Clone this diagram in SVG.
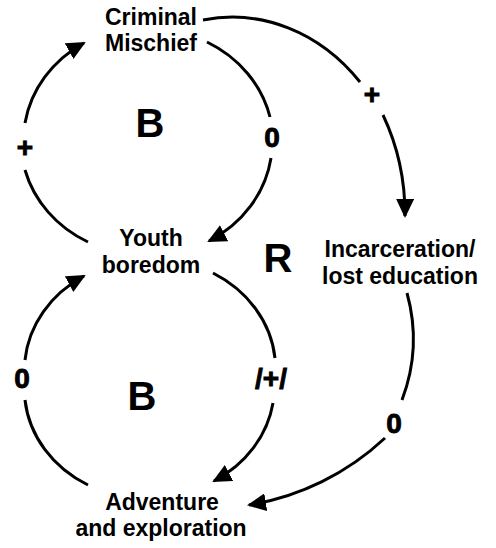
<svg xmlns="http://www.w3.org/2000/svg" width="496" height="548" viewBox="0 0 496 548">
  <style>
    .node { font-family: "Liberation Sans", Arial, sans-serif; font-weight: bold; font-size: 23px; fill: #000; text-anchor: middle; }
    .loop { font-family: "Liberation Sans", Arial, sans-serif; font-weight: bold; font-size: 40px; fill: #000; text-anchor: middle; }
    .pol { font-family: "Liberation Sans", Arial, sans-serif; font-weight: bold; font-size: 28px; fill: #000; stroke: #000; stroke-width: 0.9; text-anchor: middle; }
    .link { fill: none; stroke: #000; stroke-width: 3; }
  </style>
  <defs>
    <marker id="head" viewBox="0 0 19 18" refX="17" refY="9" markerWidth="19" markerHeight="18" markerUnits="userSpaceOnUse" orient="auto">
      <path d="M0,0 L19,9 L0,18 z" fill="#000"/>
    </marker>
  </defs>

  <rect width="496" height="548" fill="#fff"/>

  <g id="connectors">
    <!-- upper balancing loop -->
    <path class="link" d="M88,242 A124,114 0 0 1 25,170"/>
    <path class="link" d="M25,123 A124,114 0 0 1 84,43" marker-end="url(#head)"/>
    <path class="link" d="M207,42 A124,114 0 0 1 270,117"/>
    <path class="link" d="M271,158 A124,114 0 0 1 209,241" marker-end="url(#head)"/>
    <!-- lower balancing loop -->
    <path class="link" d="M88,485 A124,110 0 0 1 25,400"/>
    <path class="link" d="M25,360 A124,110 0 0 1 84,276" marker-end="url(#head)"/>
    <path class="link" d="M213,273 A124,110 0 0 1 275,358"/>
    <path class="link" d="M273,403 A124,110 0 0 1 214,481" marker-end="url(#head)"/>
    <!-- outer reinforcing path -->
    <path class="link" d="M203,20 A175,205 0 0 1 360,82"/>
    <path class="link" d="M383,115 A175,205 0 0 1 405,216" marker-end="url(#head)"/>
    <path class="link" d="M407,293 A172,172 0 0 1 402,400"/>
    <path class="link" d="M385,438 A260,260 0 0 1 249,505" marker-end="url(#head)"/>
  </g>

  <g id="labels">
    <text class="pol" x="25" y="157">+</text>
    <text class="pol" x="272" y="147">0</text>
    <text class="pol" x="372" y="104">+</text>
    <text class="pol" x="22" y="388">0</text>
    <text class="pol" x="271" y="388">/+/</text>
    <text class="pol" x="394" y="433">0</text>
  </g>

  <g id="loop-markers">
    <text class="loop" x="150" y="137">B</text>
    <text class="loop" x="278" y="272">R</text>
    <text class="loop" x="142" y="410">B</text>
  </g>

  <g id="criminal-mischief">
    <text class="node" x="151" y="25">Criminal</text>
    <text class="node" x="151" y="51">Mischief</text>
  </g>
  <g id="youth-boredom">
    <text class="node" x="151" y="246">Youth</text>
    <text class="node" x="151" y="273">boredom</text>
  </g>
  <g id="incarceration">
    <text class="node" x="400" y="257">Incarceration/</text>
    <text class="node" x="400" y="284">lost education</text>
  </g>
  <g id="adventure">
    <text class="node" x="162" y="510">Adventure</text>
    <text class="node" x="161" y="536">and exploration</text>
  </g>
</svg>
